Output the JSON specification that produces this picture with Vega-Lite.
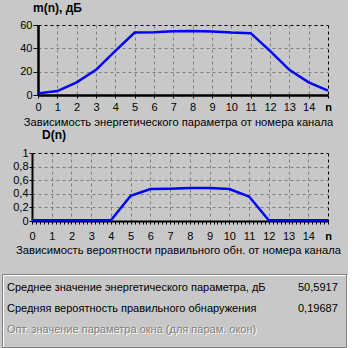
{
  "$schema": "https://vega.github.io/schema/vega-lite/v6.json",
  "background": "#c8c8c8",
  "padding": {"left": 2, "top": 2, "right": 0, "bottom": 0},
  "config": {
    "view": {"stroke": null},
    "font": "Liberation Sans",
    "axis": {
      "labelFont": "Liberation Sans", "labelFontSize": 11, "labelColor": "black",
      "titleFont": "Liberation Sans", "titleFontSize": 11.2, "titleFontWeight": "normal", "titleColor": "black",
      "domainColor": "black", "tickColor": "black", "gridColor": "#808080", "gridDash": [3, 3],
      "labelFlush": false, "labelOverlap": false
    },
    "title": {"font": "Liberation Sans", "fontSize": 12, "fontWeight": "bold", "color": "black", "anchor": "start", "frame": "group", "baseline": "alphabetic"}
  },
  "datasets": {
    "energy": [
      {"n": 0, "m": 1.4}, {"n": 1, "m": 3.4}, {"n": 2, "m": 10.8}, {"n": 3, "m": 21.6},
      {"n": 4, "m": 37.8}, {"n": 5, "m": 53.5}, {"n": 6, "m": 53.8}, {"n": 7, "m": 54.6},
      {"n": 8, "m": 54.9}, {"n": 9, "m": 54.4}, {"n": 10, "m": 53.5}, {"n": 11, "m": 53.0},
      {"n": 12, "m": 37.8}, {"n": 13, "m": 21.6}, {"n": 14, "m": 10.8}, {"n": 15, "m": 3.7}
    ],
    "detect": [
      {"n": 0, "d": 0.01}, {"n": 1, "d": 0.01}, {"n": 2, "d": 0.01}, {"n": 3, "d": 0.01},
      {"n": 4, "d": 0.01}, {"n": 5, "d": 0.37}, {"n": 6, "d": 0.47}, {"n": 7, "d": 0.475},
      {"n": 8, "d": 0.485}, {"n": 9, "d": 0.485}, {"n": 10, "d": 0.47}, {"n": 11, "d": 0.36},
      {"n": 12, "d": 0.01}, {"n": 13, "d": 0.01}, {"n": 14, "d": 0.01}, {"n": 15, "d": 0.01}
    ],
    "summary": [
      {"row": 1, "col": "label", "text": "Среднее значение энергетического параметра, дБ"},
      {"row": 1, "col": "value", "text": "50,5917"},
      {"row": 2, "col": "label", "text": "Средняя вероятность правильного обнаружения"},
      {"row": 2, "col": "value", "text": "0,19687"},
      {"row": 3, "col": "label", "text": "Опт. значение параметра окна (для парам. окон)"}
    ]
  },
  "bounds": "flush",
  "spacing": 58,
  "vconcat": [
    {
      "width": 290, "height": 70,
      "title": {"text": "m(n), дБ", "dx": -5, "offset": 4},
      "data": {"name": "energy"},
      "mark": {"type": "line", "color": "#0000ff", "strokeWidth": 2.5},
      "encoding": {
        "x": {
          "field": "n", "type": "quantitative",
          "scale": {"domain": [0, 15], "nice": false, "zero": false},
          "axis": {
            "values": [0, 1, 2, 3, 4, 5, 6, 7, 8, 9, 10, 11, 12, 13, 14, 15],
            "title": "Зависимость энергетического параметра от номера канала",
            "titleX": 140, "titlePadding": 4.5,
            "labelExpr": "datum.value === 15 ? 'n' : datum.label",
            "labelFontWeight": {"condition": {"test": "datum.value === 15", "value": "bold"}, "value": "normal"},
            "domainWidth": 2.5, "tickSize": 3, "labelPadding": 3,
            "gridColor": {"condition": {"test": "datum.value === 15", "value": "black"}, "value": "#808080"},
            "gridOpacity": {"condition": {"test": "datum.value === 0", "value": 0}, "value": 1}
          }
        },
        "y": {
          "field": "m", "type": "quantitative",
          "scale": {"domain": [0, 60], "nice": false},
          "axis": {
            "values": [0, 20, 40, 60], "title": null,
            "domainWidth": 2.5, "tickSize": 5, "labelPadding": 1,
            "gridColor": {"condition": {"test": "datum.value === 60", "value": "black"}, "value": "#808080"},
            "gridOpacity": {"condition": {"test": "datum.value === 0", "value": 0}, "value": 1}
          }
        }
      }
    },
    {
      "width": 290, "height": 68,
      "title": {"text": "D(n)", "dx": 4, "offset": 5},
      "data": {"name": "detect"},
      "mark": {"type": "line", "color": "#0000ff", "strokeWidth": 2.5},
      "encoding": {
        "x": {
          "field": "n", "type": "quantitative",
          "scale": {"domain": [0, 15], "nice": false, "zero": false, "range": [-6, 290]},
          "axis": {
            "values": [0, 0.2, 0.4, 0.6, 0.8, 1, 1.2, 1.4, 1.6, 1.8, 2, 2.2, 2.4, 2.6, 2.8, 3, 3.2, 3.4, 3.6, 3.8, 4, 4.2, 4.4, 4.6, 4.8, 5, 5.2, 5.4, 5.6, 5.8, 6, 6.2, 6.4, 6.6, 6.8, 7, 7.2, 7.4, 7.6, 7.8, 8, 8.2, 8.4, 8.6, 8.8, 9, 9.2, 9.4, 9.6, 9.8, 10, 10.2, 10.4, 10.6, 10.8, 11, 11.2, 11.4, 11.6, 11.8, 12, 12.2, 12.4, 12.6, 12.8, 13, 13.2, 13.4, 13.6, 13.8, 14, 14.2, 14.4, 14.6, 14.8, 15],
            "title": "Зависимость вероятности правильного обн.  от номера канала",
            "titleX": 140, "titlePadding": 3,
            "labelExpr": "datum.value % 1 !== 0 ? '' : (datum.value === 15 ? 'n' : format(datum.value, 'd'))",
            "labelFontWeight": {"condition": {"test": "datum.value === 15", "value": "bold"}, "value": "normal"},
            "domainWidth": 2, "tickSize": 3, "labelPadding": 6.5,
            "gridColor": {"condition": {"test": "datum.value === 15", "value": "black"}, "value": "#808080"},
            "gridOpacity": {"condition": {"test": "datum.value % 1 !== 0 || datum.value === 0", "value": 0}, "value": 1}
          }
        },
        "y": {
          "field": "d", "type": "quantitative",
          "scale": {"domain": [0, 1], "nice": false},
          "axis": {
            "values": [0, 0.2, 0.4, 0.6, 0.8, 1], "title": null, "offset": 6,
            "labelExpr": "replace(format(datum.value, '.1~f'), '.', ',')",
            "domainWidth": 2, "tickSize": 3, "labelPadding": 1,
            "gridColor": {"condition": {"test": "datum.value === 1", "value": "black"}, "value": "#808080"},
            "gridOpacity": {"condition": {"test": "datum.value === 0", "value": 0}, "value": 1}
          }
        }
      }
    },
    {
      "width": 290, "height": 69,
      "resolve": {"scale": {"x": "independent", "y": "independent"}},
      "layer": [
        {
          "data": {"values": [{}]},
          "mark": {"type": "rect", "fill": null, "stroke": "white", "strokeWidth": 1, "xOffset": 1, "x2Offset": 1, "yOffset": 1, "y2Offset": 1},
          "encoding": {
            "x": {"datum": 0, "type": "quantitative", "scale": {"domain": [0, 1], "range": [-35.5, 308.5], "nice": false, "zero": false}, "axis": null},
            "x2": {"datum": 1},
            "y": {"datum": 0, "type": "quantitative", "scale": {"domain": [0, 1], "range": [-4.5, 68.5], "nice": false, "zero": false}, "axis": null},
            "y2": {"datum": 1}
          }
        },
        {
          "data": {"values": [{}]},
          "mark": {"type": "rect", "fill": null, "stroke": "#808080", "strokeWidth": 1},
          "encoding": {
            "x": {"datum": 0, "type": "quantitative", "scale": {"domain": [0, 1], "range": [-35.5, 308.5], "nice": false, "zero": false}, "axis": null},
            "x2": {"datum": 1},
            "y": {"datum": 0, "type": "quantitative", "scale": {"domain": [0, 1], "range": [-4.5, 68.5], "nice": false, "zero": false}, "axis": null},
            "y2": {"datum": 1}
          }
        },
        {
          "data": {"name": "summary"},
          "transform": [{"filter": "datum.row === 3"}],
          "mark": {"type": "text", "align": "left", "baseline": "middle", "font": "Liberation Sans", "fontSize": 11, "color": "white", "dx": 1, "dy": 1},
          "encoding": {
            "x": {"field": "col", "type": "nominal", "scale": {"domain": ["label", "value"], "range": [-31, 260], "padding": 0}, "axis": null},
            "y": {"field": "row", "type": "ordinal", "scale": {"domain": [1, 2, 3], "range": [9.1, 51.4], "padding": 0}, "axis": null},
            "text": {"field": "text"}
          }
        },
        {
          "data": {"name": "summary"},
          "mark": {"type": "text", "align": "left", "baseline": "middle", "font": "Liberation Sans", "fontSize": 11},
          "encoding": {
            "x": {"field": "col", "type": "nominal", "scale": {"domain": ["label", "value"], "range": [-31, 260], "padding": 0}, "axis": null},
            "y": {"field": "row", "type": "ordinal", "scale": {"domain": [1, 2, 3], "range": [9.1, 51.4], "padding": 0}, "axis": null},
            "text": {"field": "text"},
            "color": {"condition": {"test": "datum.row === 3", "value": "#808080"}, "value": "black"}
          }
        }
      ]
    }
  ]
}
